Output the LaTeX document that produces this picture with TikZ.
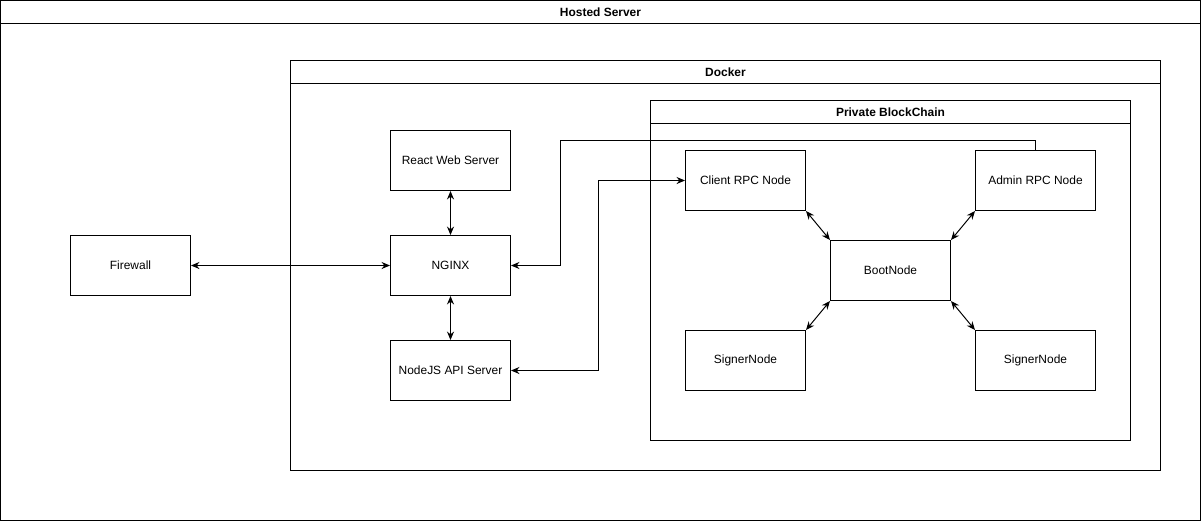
\documentclass[tikz,border=0pt]{standalone}
\usepackage{fontspec}
\setmainfont{Liberation Sans}
\usepackage{tikz}
\usetikzlibrary{arrows.meta, positioning}
\tikzset{>={Stealth[length=6pt,width=5pt]}}
\tikzset{
  box/.style={draw, line width=0.7pt, minimum width=3cm, minimum height=1.5cm, inner sep=0pt, font=\fontsize{8.5}{10}\selectfont},
  frame/.style={line width=0.7pt},
  band/.style={font=\bfseries\fontsize{8.5}{10}\selectfont},
  link/.style={<->, line width=0.7pt},
}

\begin{document}
\begin{tikzpicture}[x=0.025cm, y=-0.025cm]
	\useasboundingbox (-0.5,-0.5) rectangle (1200.5,520.5);
	% containers
	\draw [frame] (0,0) rectangle (1200,520);
	\draw [frame] (0,23) -- (1200,23);
	\node [band] (hosted) at (600,12) {Hosted Server};
	\draw [frame] (290,60) rectangle (1160,470);
	\draw [frame] (290,83) -- (1160,83);
	\node [band] (docker) at (725,72) {Docker};
	\draw [frame] (650,100) rectangle (1130,440);
	\draw [frame] (650,123) -- (1130,123);
	\node [band] (chain) at (890,112) {Private BlockChain};
	% servers
	\node [box] (firewall) at (130,265) {Firewall};
	\node [box] (react) at (450,160) {React Web Server};
	\node [box] (nginx) at (450,265) {NGINX};
	\node [box] (nodejs) at (450,370) {NodeJS API Server};
	% blockchain nodes
	\node [box] (client) at (745,180) {Client RPC Node};
	\node [box] (admin) at (1035,180) {Admin RPC Node};
	\node [box] (boot) at (890,270) {BootNode};
	\node [box] (signerA) at (745,360) {SignerNode};
	\node [box] (signerB) at (1035,360) {SignerNode};
	\coordinate (adminup) at (1035,140);
	\coordinate (nginxturn) at (560,140);
	\coordinate (apiturn) at (598,275);
	% connectors
	\draw [link] (firewall) -- (nginx);
	\draw [link] (react) -- (nginx);
	\draw [link] (nginx) -- (nodejs);
	\draw [->, line width=0.7pt] (admin.north) -- (adminup) -- (nginxturn) |- (nginx.east);
	\draw [link] (nodejs.east) -| (apiturn) |- (client.west);
	\draw [link] (client.south east) -- (boot.north west);
	\draw [link] (admin.south west) -- (boot.north east);
	\draw [link] (boot.south west) -- (signerA.north east);
	\draw [link] (boot.south east) -- (signerB.north west);
\end{tikzpicture}
\end{document}
